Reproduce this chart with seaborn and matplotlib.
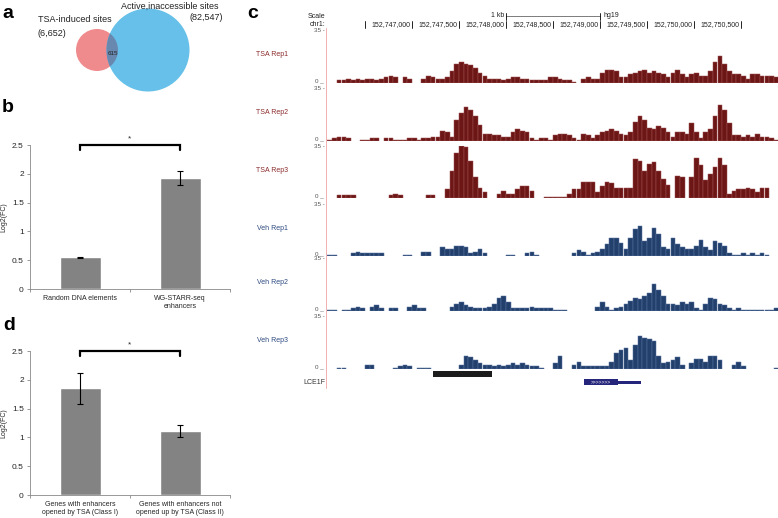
import numpy as np
import pandas as pd
import matplotlib as mpl
mpl.use('Agg')
import matplotlib.pyplot as plt
import seaborn as sns
from matplotlib.patches import Circle, Rectangle
from matplotlib.lines import Line2D

sns.set_theme(style='white')
plt.rcParams['font.family'] = ['Liberation Sans', 'DejaVu Sans']

n = np.nan

# ---- panel a : venn ----
venn_names = ['TSA-induced sites', 'Active,inaccessible sites']
venn_sizes = [6652, 82547]
venn_overlap = 615

# ---- panel b ----
b_groups = ['Random DNA elements', 'WG-STARR-seq\nenhancers']
b_values = [0.55, 1.92]
b_errors = [0.01, 0.12]

# ---- panel d ----
d_groups = ['Genes with enhancers\nopened by TSA (Class I)',
            'Genes with enhancers not\nopened up by TSA (Class II)']
d_values = [1.85, 1.11]
d_errors = [0.27, 0.11]

# ---- panel c : browser tracks (50 bp bins from view_start) ----
view_start = 152746100
bin_size = 50
ruler_ticks = [152746500, 152747000, 152747500, 152748000, 152748500,
               152749000, 152749500, 152750000, 152750500]
scale_bar = [152748000, 152749000]
enhancer_block = [152747220, 152747855]
lce1f_cds = [152748830, 152749190]
lce1f_end = 152749440

tsa_rep1 = [n, n, 2, 2, 3, 2, 3, 2, 3, 3, 2, 3, 4, 5, 4, n, 4, 3, n, n,
            3, 5, 4, 3, 3, 4, 8, 13, 14, 13, 12, 10, 7, 5,
            3, 3, 3, 2, 3, 4, 4, 3, 3, 2, 2, 2, 2, 4, 4, 3, 2, 2, 1, n,
            3, 4, 3, 3, 7, 9, 9, 8, 4, 4, 6, 7, 8, 9, 7, 8, 7, 6, 4, 7, 9, 6,
            4, 6, 7, 5, 5, 8, 14, 18, 13, 8, 6, 6, 5, 3, 6, 6, 5, 5, 5, 4]
tsa_rep2 = [1, 2, 3, 3, 2, n, n, 1, 1, 2, 2, n, 2, 2, 1, 1, 1, 2, 2,
            1, 2, 2, 3, 3, 7, 6, 3, 14, 19, 23, 21, 17, 11, 5, 5, 4, 4, 3,
            3, 6, 8, 7, 6, 2, 1, 2, 2, 1, 4, 5, 5, 4, 2, 1, 5, 4, 2,
            4, 6, 7, 8, 7, 5, 4, 6, 13, 17, 14, 9, 8, 10, 9, 6, 3, 6, 6, 5,
            12, 6, 2, 6, 8, 17, 24, 21, 12, 4, 4, 3, 4, 3, 5, 3, 3, 2, 1]
tsa_rep3 = [n, n, 2, 2, 2, 2, n, n, n, n, n, n, n, 2, 3, 2, n, n, n, n, n,
            2, 2, n, n, 6, 18, 30, 35, 34, 25, 14, 7, 4, n, n,
            3, 5, 3, 3, 6, 8, 8, 5, n, n, 1, 1, 1, 1, 1, 3, 6, 6, 11, 11, 11,
            4, 8, 11, 10, 7, 7, 7, 7, 26, 25, 18, 23, 24, 18, 13, 9, n, 15, 14, n,
            14, 27, 22, 12, 16, 21, 27, 22, 3, 5, 6, 6, 7, 6, 4, 7, 7, n, n]
veh_rep1 = [1, 1, n, n, n, 2, 3, 2, 2, 2, 2, 2, n, n, n, n, 1, 1, n, n,
            3, 3, n, n, 6, 5, 5, 7, 7, 6, 2, 3, 5, 2, n, n, n, n, 1, 1, n, n,
            2, 3, 1, n, n, n, n, n, n, n,
            2, 4, 3, 1, 2, 3, 5, 8, 12, 12, 9, 5, 12, 18, 20, 10, 12, 19, 15, 6,
            5, 12, 8, 6, 5, 5, 7, 11, 6, 4, 10, 9, 7, 2, 1, 1, 2, 1, 2, 1, 2, 1,
            n, n]
veh_rep2 = [1, 1, n, 1, 1, 2, 3, 2, n, 3, 4, 2, n, 2, 2, n, n, 3, 4, 2, 2,
            n, n, n, n, n, 3, 5, 6, 4, 3, 2, 2, 2, 3, 5, 9, 10, 6,
            2, 2, 2, 2, 3, 2, 2, 2, 2, 1, 1, 1, n, n, n, n, n, n, 3, 6, 3,
            1, 2, 3, 5, 7, 9, 8, 10, 12, 18, 14, 10, 5, 5, 4, 6, 5, 6, 2, 1,
            5, 9, 8, 5, 4, 2, 1, 2, 1, 1, 1, 1, 1, 1, 1, 2]
veh_rep3 = [n, n, 1, 1, n, n, n, n, 3, 3, n, n, n, n, 1, 2, 3, 2, n, 1, 1, 1,
            n, n, n, n, n, n, 3, 9, 8, 6, 4, 3, 3, 2, 3, 2, 3, 4, 3, 4, 3, 2, 2, 1,
            n, n, 4, 9, n, n, 3, 5, 2, 2, 2,
            2, 2, 2, 5, 11, 13, 14, 6, 16, 22, 21, 20, 19, 9, 4, 5, 6, 8, 3, n,
            4, 7, 7, 5, 9, 9, 6, n, n, 3, 5, 2, n, n, n, n, n, n, 1]

W, H = 778, 518
fig = plt.figure(figsize=(W / 100, H / 100), dpi=100)


def px_axes(x0, y0, x1, y1):
    return fig.add_axes([x0 / W, 1 - y1 / H, (x1 - x0) / W, (y1 - y0) / H])


def ftext(x, y, s, **kw):
    fig.text(x / W, 1 - y / H, s, **kw)


# ---------------- panel a ----------------
ax = px_axes(0, 0, 250, 100)
ax.set_xlim(0, 250)
ax.set_ylim(100, 0)
ax.axis('off')
pink = Circle((97, 50), 21, color='#ef8b8d', lw=0)
blue = Circle((148, 50), 41.5, color='#66c0e9', lw=0)
ax.add_patch(pink)
ax.add_patch(blue)
lens = Circle((148, 50), 41.5, color='#6888b0', lw=0)
ax.add_patch(lens)
lens.set_clip_path(pink)
ax.text(38, 20, venn_names[0], ha='left', va='center', fontsize=6.5, color='#222')
ax.text(37, 33, '({:,})'.format(venn_sizes[0]), ha='left', va='center', fontsize=6.5, color='#222')
ax.text(121, 6, venn_names[1], ha='left', va='center', fontsize=6.5, color='#222')
ax.text(223, 17, '({:,})'.format(venn_sizes[1]), ha='right', va='center', fontsize=6.5, color='#222')
ax.text(113, 53, str(venn_overlap), ha='center', va='center', fontsize=4.5, color='#222')


# ---------------- panels b, d ----------------
def bar_panel(ax, groups, values, errors):
    df = pd.DataFrame({'group': groups, 'value': values})
    sns.barplot(data=df, x='group', y='value', color='#838383', saturation=1,
                width=0.41, errorbar=None, ax=ax)
    ax.errorbar(range(len(groups)), values, yerr=errors, fmt='none',
                ecolor='black', elinewidth=0.8, capsize=2, capthick=0.8)
    ax.set_xlim(-0.5, 1.5)
    ax.set_ylim(0, 2.5)
    ax.set_yticks(np.arange(0, 2.51, 0.5))
    ax.set_yticklabels(['0', '0.5', '1', '1.5', '2', '2.5'])
    ax.set_xticks([-0.5, 0.5, 1.5], minor=True)
    ax.tick_params(axis='y', left=True, labelsize=6, length=2.5, width=0.6,
                   color='#888', pad=2)
    ax.tick_params(axis='x', which='major', length=0, labelsize=5, pad=4)
    ax.tick_params(axis='x', which='minor', bottom=True, length=2.5, width=0.6, color='#888')
    sns.despine(ax=ax)
    for s in ['left', 'bottom']:
        ax.spines[s].set_color('#888')
        ax.spines[s].set_linewidth(0.6)
    ax.set_xlabel('')
    ax.set_ylabel('Log2(FC)', fontsize=5)
    ax.yaxis.set_label_coords(-0.115, 0.5)
    ax.plot([0, 0, 1, 1], [2.42, 2.5, 2.5, 2.42], color='black', lw=1.6,
            clip_on=False, solid_joinstyle='miter')
    ax.text(0.5, 2.55, '*', ha='center', va='bottom', fontsize=6)


bar_panel(px_axes(30, 145, 230, 289), b_groups, b_values, b_errors)
bar_panel(px_axes(30, 351, 230, 495), d_groups, d_values, d_errors)

# ---------------- panel c ----------------
px_per_bp = 0.094
n_bins = len(tsa_rep1)
view_end = view_start + n_bins * bin_size
x0 = 327.4
x1 = x0 + (view_end - view_start) * px_per_bp
positions = view_start + bin_size * np.arange(n_bins) + bin_size / 2

hdr = px_axes(x0, 0, x1, 30)
hdr.set_xlim(view_start, view_end)
hdr.set_ylim(30, 0)
hdr.axis('off')
for i, t in enumerate(ruler_ticks):
    hdr.plot([t, t], [20.5, 27.5], color='black', lw=0.6)
    if i > 0:
        hdr.text(t - 12, 24.3, '{:,}'.format(t), ha='right', va='center', fontsize=5, color='#222')
hdr.plot(scale_bar, [16, 16], color='#666', lw=0.6)
for t in scale_bar:
    hdr.plot([t, t], [12.5, 19.5], color='black', lw=0.6)
hdr.text(scale_bar[0] - 15, 15.5, '1 kb', ha='right', va='center', fontsize=5, color='#222')
hdr.text(scale_bar[1] + 40, 15.5, 'hg19', ha='left', va='center', fontsize=5, color='#222')
ftext(325, 16, 'Scale', ha='right', va='center', fontsize=5, color='#222')
ftext(325, 24, 'chr1:', ha='right', va='center', fontsize=5, color='#222')

tracks = [
    ('TSA Rep1', tsa_rep1, 31, '#6c1616', '#a05050', '#8b2b2b'),
    ('TSA Rep2', tsa_rep2, 89, '#6c1616', '#a05050', '#8b2b2b'),
    ('TSA Rep3', tsa_rep3, 146, '#6c1616', '#a05050', '#8b2b2b'),
    ('Veh Rep1', veh_rep1, 204, '#233f6c', '#5873a0', '#2d4a80'),
    ('Veh Rep2', veh_rep2, 259, '#233f6c', '#5873a0', '#2d4a80'),
    ('Veh Rep3', veh_rep3, 317, '#233f6c', '#5873a0', '#2d4a80'),
]
for name, vals, top, fill, stripe, lab in tracks:
    ax = px_axes(x0, top, x1, top + 52)
    cov = pd.DataFrame({'pos': positions, 'cov': vals}).dropna()
    sns.histplot(data=cov, x='pos', weights='cov', binwidth=bin_size,
                 binrange=(view_start, view_end), ax=ax,
                 color=fill, edgecolor=stripe, linewidth=0.35, alpha=1)
    for p in ax.patches:
        if p.get_height() == 0:
            p.set_visible(False)
    ax.set_xlim(view_start, view_end)
    ax.set_ylim(0, 35)
    ax.axis('off')
    ftext(288, top + 24, name, ha='right', va='center', fontsize=5, color=lab)
    ftext(325, top, '35 -', ha='right', va='center', fontsize=4.5, color='#555')
    ftext(324, top + 50, '0 _', ha='right', va='center', fontsize=4.5, color='#555')

feat = px_axes(x0, 366, x1, 390)
feat.set_xlim(view_start, view_end)
feat.set_ylim(390, 366)
feat.axis('off')
feat.add_patch(Rectangle((enhancer_block[0], 371), enhancer_block[1] - enhancer_block[0], 6,
                         color='#1c1c1c', lw=0))
feat.add_patch(Rectangle((lce1f_cds[0], 379), lce1f_cds[1] - lce1f_cds[0], 6,
                         color='#25257c', lw=0))
feat.add_patch(Rectangle((lce1f_cds[1], 380.5), lce1f_end - lce1f_cds[1], 3,
                         color='#25257c', lw=0))
feat.text(sum(lce1f_cds) / 2, 382, '>>>>>>>', ha='center', va='center',
          fontsize=3.5, color='white')
ftext(325, 383, 'LCE1F', ha='right', va='center', fontsize=5, color='#333')

fig.add_artist(Line2D([326 / W, 326 / W], [1 - 28 / H, 1 - 388 / H],
                      color='#f2b0b0', lw=0.7))

# panel letters
for letter, (lx, ly) in {'a': (2, 14), 'b': (2, 108), 'c': (247, 14), 'd': (3, 326)}.items():
    ftext(lx, ly, letter, fontsize=14, fontweight='bold', va='center', ha='left', color='black')

fig.savefig('out.png', dpi=100)
